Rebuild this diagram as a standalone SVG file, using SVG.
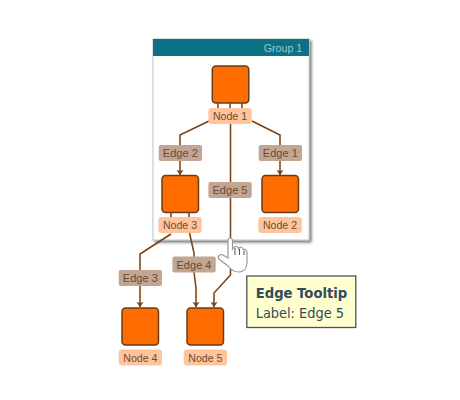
<svg xmlns="http://www.w3.org/2000/svg" width="460" height="400" viewBox="0 0 460 400">
<style>
text{font-family:"Liberation Sans",Arial,sans-serif}
.n{fill:#ff6d00;stroke:#6d3b12;stroke-width:1.5}
.nl{fill:#ffc49b}
.el{fill:#c2a593}
.t{font-size:11.5px;fill:#6b4a33;text-anchor:middle}
.c{fill:none;stroke:#7a3f10;stroke-width:1.5}
.tip{font-family:"DejaVu Sans",sans-serif;font-size:14.500px;fill:#34495e}
</style>
<defs>
<marker id="a" markerUnits="userSpaceOnUse" markerWidth="7" markerHeight="8" refX="5" refY="4" orient="auto"><path d="M0 0.500L5 4L0 7.500L1 4Z" fill="#7a3f10"/></marker>
<filter id="s" x="-10%" y="-10%" width="120%" height="120%"><feDropShadow dx="2" dy="2" stdDeviation="1.500" flood-color="#000" flood-opacity=".55"/></filter>
</defs>
<g id="group1">
<rect x="153" y="39" width="156" height="201" fill="#fff" stroke="#b9c6cc" stroke-width="1" filter="url(#s)"/>
<rect x="153" y="39" width="156" height="17" fill="#0b7285"/>
<text x="263.700" y="52" font-size="11.500" fill="#9fc4cc" textLength="38.600" lengthAdjust="spacingAndGlyphs">Group 1</text>
</g>
<g id="connectors">
<path class="c" d="M218 103V108M230 103V108M242 103V108"/>
<path class="c" d="M209 121L180 135V175" marker-end="url(#a)"/>
<path class="c" d="M252 121L280 135V175" marker-end="url(#a)"/>
<path class="c" d="M230.500 124V275L214 293V307" marker-end="url(#a)"/>
<path class="c" d="M171 213V217M189 213V217"/>
<path class="c" d="M171 234L140 254V307" marker-end="url(#a)"/>
<path class="c" d="M189.300 232L194 253V272L196 288V307" marker-end="url(#a)"/>
</g>
<g id="edge2"><rect class="el" x="158.700" y="145" width="43.300" height="16" rx="2"/><text class="t" x="180.300" y="157" textLength="35" lengthAdjust="spacingAndGlyphs">Edge 2</text></g>
<g id="edge1"><rect class="el" x="258.700" y="145" width="43.300" height="16" rx="2"/><text class="t" x="280.300" y="157" textLength="35" lengthAdjust="spacingAndGlyphs">Edge 1</text></g>
<g id="edge5"><rect class="el" x="208.400" y="182" width="43.300" height="16" rx="2"/><text class="t" x="230" y="194" textLength="35" lengthAdjust="spacingAndGlyphs">Edge 5</text></g>
<g id="edge3"><rect class="el" x="118.700" y="270" width="43.300" height="16" rx="2"/><text class="t" x="140.300" y="282" textLength="35" lengthAdjust="spacingAndGlyphs">Edge 3</text></g>
<g id="edge4"><rect class="el" x="172.400" y="256.500" width="43.300" height="16" rx="2"/><text class="t" x="194" y="268.500" textLength="35" lengthAdjust="spacingAndGlyphs">Edge 4</text></g>
<g id="node1"><rect class="n" x="212.300" y="66" width="36.500" height="37" rx="3.500"/><rect class="nl" x="208.400" y="108" width="43.300" height="16" rx="3"/><text class="t" x="230" y="120" textLength="34" lengthAdjust="spacingAndGlyphs">Node 1</text></g>
<g id="node3"><rect class="n" x="162" y="175.500" width="36.500" height="37" rx="3.500"/><rect class="nl" x="158.400" y="217" width="43.300" height="16" rx="3"/><text class="t" x="180" y="229" textLength="34" lengthAdjust="spacingAndGlyphs">Node 3</text></g>
<g id="node2"><rect class="n" x="262" y="175.500" width="36.500" height="37" rx="3.500"/><rect class="nl" x="258.400" y="217" width="43.300" height="16" rx="3"/><text class="t" x="280" y="229" textLength="34" lengthAdjust="spacingAndGlyphs">Node 2</text></g>
<g id="node4"><rect class="n" x="122" y="308" width="36.500" height="37" rx="3.500"/><rect class="nl" x="118.700" y="349.500" width="43.300" height="16" rx="3"/><text class="t" x="140.300" y="361.500" textLength="34" lengthAdjust="spacingAndGlyphs">Node 4</text></g>
<g id="node5"><rect class="n" x="187" y="308" width="36.500" height="37" rx="3.500"/><rect class="nl" x="183.700" y="349.500" width="43.300" height="16" rx="3"/><text class="t" x="205.300" y="361.500" textLength="34" lengthAdjust="spacingAndGlyphs">Node 5</text></g>
<g id="cursor"><path d="M228 241C228 237 232.500 237 232.500 241V249C235 245 238 246 238.500 249C240 246 243 247 243.500 250C245 248.500 247 250 247 253V262C247 268 244 272 239 272C234 272 231 270 228 266L219 259C217 256 220 254 223 255L228 258Z" fill="#fff" stroke="#9a9a9a" stroke-width="1.200"/><path d="M235 248V255M239.500 249V255M244 251V255" stroke="#555" stroke-width="1" fill="none"/></g>
<g id="tooltip"><rect x="246.800" y="276" width="109" height="51.500" fill="#ffffd0" stroke="#4d5156" stroke-width="1.300"/><text class="tip" x="255.700" y="298" font-weight="bold" textLength="91.600" lengthAdjust="spacingAndGlyphs">Edge Tooltip</text><text class="tip" x="255.700" y="318" textLength="88.300" lengthAdjust="spacingAndGlyphs">Label: Edge 5</text></g>
</svg>
